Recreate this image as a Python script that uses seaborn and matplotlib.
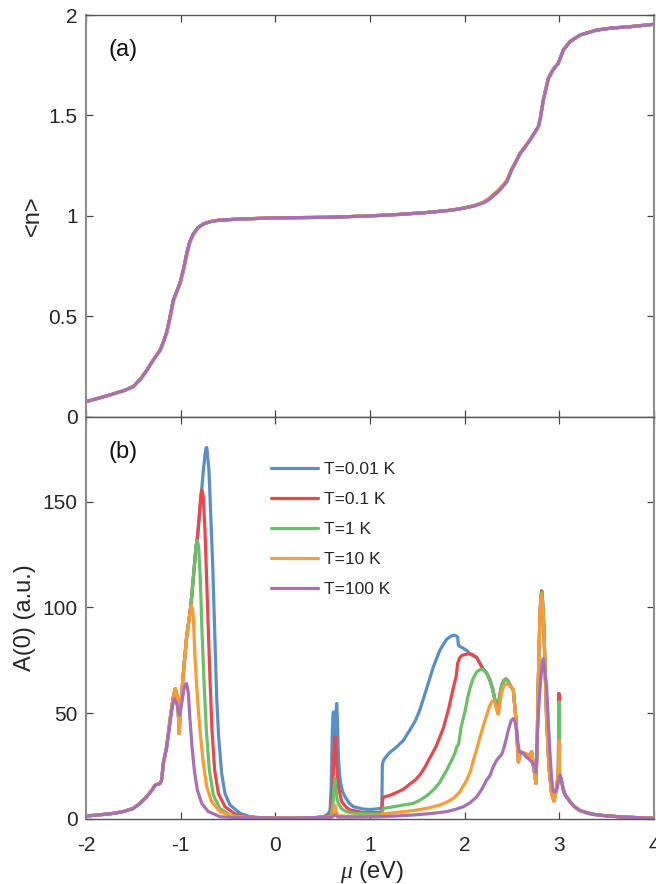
import matplotlib
matplotlib.use("Agg")
import matplotlib.pyplot as plt
import pandas as pd
import seaborn as sns

# ---------------- labels / colours ----------------
temps = ["T=0.01 K", "T=0.1 K", "T=1 K", "T=10 K", "T=100 K"]
colors = ["#5a8fc3", "#e8474c", "#6abf69", "#f99b36", "#a96fb5"]

# ---------------- panel (a): <n> vs mu ----------------
n_mu = [-2.0, -1.9, -1.75, -1.6, -1.5, -1.42, -1.359, -1.30, -1.218, -1.18, -1.148,
        -1.115, -1.078, -1.04, -1.007, -0.97, -0.937, -0.905, -0.867, -0.82, -0.76,
        -0.68, -0.6, -0.4, 0.0, 0.57, 1.0, 1.3, 1.634, 1.85, 1.986, 2.1, 2.197, 2.25,
        2.302, 2.35, 2.39, 2.443, 2.497, 2.549, 2.584, 2.64, 2.69, 2.74, 2.778, 2.80,
        2.831, 2.884, 2.937, 2.989, 3.042, 3.113, 3.218, 3.30, 3.394, 3.55, 3.746, 4.0]
n_low = [0.075, 0.088, 0.108, 0.13, 0.15, 0.19, 0.23, 0.275, 0.33, 0.375, 0.42,
         0.49, 0.58, 0.625, 0.665, 0.735, 0.81, 0.87, 0.91, 0.94, 0.96,
         0.972, 0.978, 0.984, 0.99, 0.993, 1.0, 1.007, 1.018, 1.028, 1.038, 1.05, 1.066, 1.08,
         1.1, 1.12, 1.14, 1.17, 1.23, 1.277, 1.31, 1.345, 1.378, 1.415, 1.444, 1.49,
         1.577, 1.685, 1.73, 1.76, 1.826, 1.868, 1.90, 1.912, 1.925, 1.935, 1.942, 1.954]
n_10K = [0.075, 0.088, 0.108, 0.13, 0.15, 0.19, 0.23, 0.275, 0.33, 0.372, 0.415,
         0.48, 0.57, 0.62, 0.66, 0.725, 0.80, 0.86, 0.905, 0.938, 0.959,
         0.972, 0.978, 0.984, 0.99, 0.993, 1.0, 1.007, 1.018, 1.028, 1.039, 1.052, 1.069, 1.085,
         1.107, 1.127, 1.147, 1.176, 1.235, 1.28, 1.312, 1.346, 1.378, 1.415, 1.444, 1.49,
         1.577, 1.685, 1.73, 1.76, 1.826, 1.868, 1.90, 1.912, 1.925, 1.935, 1.942, 1.954]
n_series = [n_low, n_low, n_low, n_10K, n_low]

# ---------------- panel (b): A(0) vs mu ----------------
# shared low-energy part (all temperatures)
left_mu = [-2.0, -1.85, -1.7, -1.6, -1.5, -1.43, -1.36, -1.30, -1.271, -1.236,
           -1.218, -1.201, -1.183, -1.148]
left_A = [1.4, 2.0, 2.7, 3.6, 5.0, 7.4, 10.5, 13.8, 16.0, 16.5, 16.8, 18.5, 26.3, 34.0]

# rising flank shared by T <= 10 K
rise_mu = [-1.113, -1.078, -1.057, -1.035, -1.021, -1.018, -1.011, -1.0, -0.972, -0.937, -0.901]
rise_A = [46.7, 57.7, 61.6, 57.7, 46.7, 40.4, 45.1, 53.0, 68.7, 86.0, 97.8]

# gap region
gap_mu = [-0.15, 0.0, 0.2, 0.4, 0.5]
gap_A = [0.6, 0.45, 0.4, 0.6, 0.9]

# high-energy tail shared by all temperatures
tail_mu = [3.007, 3.025, 3.042, 3.06, 3.112, 3.16, 3.218, 3.30, 3.36, 3.45, 3.535,
           3.65, 3.75, 3.87, 4.0]
tail_A = [20.8, 17.5, 13.7, 11.5, 8.2, 5.8, 4.0, 2.8, 2.2, 1.7, 1.4, 1.0, 0.8, 0.55, 0.3]

# region 2.54 - 3.0 shared by T <= 10 K (peak and spike heights differ)
r_mu = [2.542, 2.567, 2.578, 2.591, 2.62, 2.654, 2.689, 2.707, 2.725, 2.753, 2.765,
        2.778, 2.795, 2.805]
r_A = [46.7, 27.0, 29.0, 31.8, 31.2, 30.6, 29.4, 31.8, 25.5, 16.8, 35.0, 65.6, 97.0, 104.5]
r2_mu = [2.822, 2.835, 2.848, 2.866, 2.89, 2.918, 2.943, 2.971, 2.989]
r2_A = [103.0, 92.0, 73.4, 46.7, 24.7, 12.1, 8.6, 14.5, 22.3]

# T = 10 K
o_peak_mu = [-0.887, -0.876, -0.866, -0.849, -0.824, -0.796, -0.761, -0.725, -0.673, -0.585, -0.444]
o_peak_A = [100.9, 99.5, 95.4, 76.6, 57.7, 42.0, 26.3, 15.3, 8.2, 3.5, 1.1]
o_mid_mu = [0.525, 0.60, 0.615, 0.63, 0.645, 0.66, 0.75, 1.123, 1.135, 1.30, 1.458, 1.60,
            1.739, 1.82, 1.88, 1.91, 1.95, 2.021, 2.06, 2.092, 2.13, 2.162, 2.20, 2.232,
            2.26, 2.285, 2.305, 2.32, 2.338, 2.355, 2.37, 2.391, 2.41, 2.43, 2.451, 2.48, 2.514]
o_mid_A = [0.6, 1.2, 3.5, 6.6, 3.5, 1.6, 1.3, 1.3, 2.4, 3.2, 4.0, 5.0,
           6.6, 8.2, 9.7, 11.0, 12.9, 18.4, 22.5, 27.8, 33.5, 38.8, 44.5, 49.0,
           53.0, 55.3, 56.0, 55.0, 51.5, 49.5, 54.0, 60.0, 62.5, 63.6, 64.0, 63.0, 60.9]

# T = 1 K
g_peak_mu = [-0.884, -0.866, -0.849, -0.838, -0.827]
g_peak_A = [104.9, 114.3, 123.7, 128.5, 131.6]
g_fall_mu = [-0.818, -0.810, -0.792, -0.775, -0.754, -0.729, -0.697, -0.655, -0.585, -0.479, -0.338]
g_fall_A = [130.5, 128.5, 112.7, 89.2, 65.6, 42.0, 23.1, 11.3, 5.0, 1.9, 0.7]
g_mid_mu = [0.525, 0.59, 0.61, 0.62, 0.63, 0.64, 0.655, 0.666, 0.70, 0.754, 0.85, 1.123,
            1.141, 1.25, 1.35, 1.458, 1.528, 1.60, 1.669, 1.732, 1.81, 1.86, 1.898, 1.915,
            1.935, 1.945, 1.96, 2.004, 2.03, 2.057, 2.09, 2.127, 2.16]
g_mid_A = [0.8, 1.5, 8.0, 15.0, 19.2, 14.0, 9.0, 7.4, 4.8, 3.4, 2.6, 2.3,
           5.0, 5.8, 6.6, 7.4, 8.9, 11.0, 13.7, 17.0, 23.1, 27.5, 31.3, 34.0,
           35.2, 38.0, 43.0, 51.0, 57.0, 62.0, 66.5, 69.5, 70.6]
g_bump_mu = [2.197, 2.232, 2.268, 2.295, 2.32, 2.338, 2.345, 2.355, 2.37, 2.391, 2.415,
             2.437, 2.46, 2.49, 2.514]
g_bump_A = [70.6, 69.0, 65.5, 61.5, 56.1, 52.5, 51.5, 53.0, 58.0, 63.2, 65.5,
            66.2, 65.0, 62.5, 60.9]

# T = 0.1 K
r_env_mu = [-0.813, -0.796]
r_env_A = [137.9, 147.3]
red_peak_mu = [-0.785, -0.778, -0.770, -0.761, -0.743, -0.725, -0.708, -0.690, -0.669,
               -0.641, -0.602, -0.532, -0.426, -0.303]
red_peak_A = [153.5, 155.5, 154.5, 152.0, 136.3, 112.7, 89.2, 65.6, 42.0,
              23.1, 12.1, 5.8, 2.4, 0.9]
red_mid_mu = [0.525, 0.59, 0.606, 0.618, 0.63, 0.642, 0.655, 0.666, 0.701, 0.75, 0.789,
              0.93, 1.123, 1.134, 1.141, 1.21, 1.28, 1.35, 1.42, 1.48, 1.53, 1.58, 1.634,
              1.70, 1.775, 1.83, 1.88, 1.905, 1.912, 1.925, 1.945, 1.97, 2.039, 2.08,
              2.127, 2.162]
red_mid_A = [1.0, 2.5, 13.8, 30.0, 38.8, 30.0, 20.0, 15.3, 8.2, 5.5, 4.3,
             3.0, 3.0, 9.5, 10.3, 11.2, 12.5, 14.0, 16.5, 18.5, 21.0, 24.5, 29.0,
             34.5, 43.0, 52.0, 62.0, 66.5, 68.0, 73.4, 76.0, 77.3, 78.1, 77.8,
             76.3, 73.4]

# T = 0.01 K
b_peak_mu = [-0.778, -0.761, -0.740, -0.731, -0.725, -0.718, -0.701, -0.683, -0.662,
             -0.641, -0.620, -0.599, -0.567, -0.532, -0.479, -0.373, -0.268]
b_peak_A = [155.5, 164.6, 173.3, 175.4, 175.6, 173.0, 164.6, 144.2, 120.6,
            89.2, 57.7, 38.8, 21.5, 12.1, 6.6, 2.7, 1.1]
b_mid_mu = [0.525, 0.56, 0.578, 0.590, 0.600, 0.607, 0.613, 0.619, 0.626, 0.633, 0.641,
            0.648, 0.655, 0.666, 0.678, 0.690, 0.710, 0.736, 0.78, 0.824, 0.93, 1.0,
            1.106, 1.125, 1.130, 1.141, 1.158, 1.21, 1.28, 1.35, 1.42, 1.48, 1.53, 1.60,
            1.67, 1.74, 1.81, 1.87, 1.90, 1.926, 1.932, 1.940, 2.021, 2.06, 2.127, 2.162]
b_mid_A = [1.5, 2.5, 4.2, 15.0, 38.0, 48.0, 50.6, 45.0, 36.0, 40.0, 50.0,
           54.6, 48.0, 29.4, 21.0, 16.8, 13.0, 10.5, 7.5, 5.8, 4.7, 4.5,
           4.9, 5.7, 25.5, 27.5, 28.8, 31.5, 34.0, 37.0, 42.0, 46.5, 52.0, 62.0,
           72.0, 80.0, 85.0, 86.8, 86.8, 86.0, 82.5, 81.8, 79.7, 77.8, 76.3, 73.4]

# T = 100 K
p_main_mu = [-1.113, -1.088, -1.067, -1.042, -1.014, -0.989, -0.965, -0.950, -0.940,
             -0.930, -0.919, -0.901, -0.880, -0.856, -0.824, -0.778, -0.708, -0.585, -0.408]
p_main_A = [45.1, 53.0, 56.9, 54.6, 49.1, 54.6, 61.6, 63.5, 64.0,
            62.5, 59.3, 46.7, 34.1, 23.1, 13.7, 7.4, 3.5, 1.1, 0.6]
p_mid_mu = [0.525, 0.60, 0.63, 0.66, 0.8, 1.106, 1.30, 1.458, 1.65, 1.81, 1.90, 1.986,
            2.06, 2.127, 2.18, 2.232, 2.267, 2.30, 2.338, 2.36, 2.391, 2.42, 2.444,
            2.461, 2.49, 2.514, 2.528, 2.542, 2.56, 2.577, 2.60, 2.619, 2.645, 2.672,
            2.69, 2.707, 2.725, 2.742, 2.752, 2.762, 2.778, 2.802, 2.818, 2.830, 2.845,
            2.866, 2.885, 2.901, 2.918, 2.936, 2.955, 2.971, 2.99]
p_mid_A = [0.7, 0.9, 2.0, 1.0, 0.9, 1.1, 1.5, 1.9, 2.6, 3.5, 4.5, 5.8,
           7.8, 10.5, 14.0, 18.4, 20.5, 24.5, 27.8, 29.0, 30.5, 34.5, 38.8,
           42.0, 46.5, 47.5, 46.5, 43.5, 37.0, 31.8, 31.3, 31.0, 29.5, 28.6,
           27.8, 27.0, 25.8, 24.7, 22.0, 32.0, 49.8, 65.5, 73.0, 75.8, 71.0,
           62.4, 45.0, 31.0, 19.0, 12.9, 12.8, 13.7, 17.5]

# peak heights at mu ~ 2.81 and spike tops at mu = 3.0 for T = 0.01, 0.1, 1, 10 K
peak281 = [107.8, 107.8, 107.2, 106.2]
spike3 = [59.3, 59.3, 55.3, 37.2]
spike_mu = [2.996, 3.0]
spike_base = 21.0

o_mu = left_mu + rise_mu + o_peak_mu + gap_mu + o_mid_mu + r_mu + [2.813] + r2_mu
o_A = left_A + rise_A + o_peak_A + gap_A + o_mid_A + r_A + [peak281[3]] + r2_A
g_mu = left_mu + rise_mu + g_peak_mu + g_fall_mu + gap_mu + g_mid_mu + g_bump_mu + r_mu + [2.813] + r2_mu
g_A = left_A + rise_A + g_peak_A + g_fall_A + gap_A + g_mid_A + g_bump_A + r_A + [peak281[2]] + r2_A
rd_mu = left_mu + rise_mu + g_peak_mu + r_env_mu + red_peak_mu + gap_mu + red_mid_mu + g_bump_mu + r_mu + [2.813] + r2_mu
rd_A = left_A + rise_A + g_peak_A + r_env_A + red_peak_A + gap_A + red_mid_A + g_bump_A + r_A + [peak281[1]] + r2_A
b_mu = left_mu + rise_mu + g_peak_mu + r_env_mu + b_peak_mu + gap_mu + b_mid_mu + g_bump_mu + r_mu + [2.813] + r2_mu
b_A = left_A + rise_A + g_peak_A + r_env_A + b_peak_A + gap_A + b_mid_A + g_bump_A + r_A + [peak281[0]] + r2_A
p_mu = left_mu + p_main_mu + gap_mu + p_mid_mu + tail_mu
p_A = left_A + p_main_A + gap_A + p_mid_A + tail_A

low_mu = [b_mu, rd_mu, g_mu, o_mu]
low_A = [b_A, rd_A, g_A, o_A]
b_series_mu = [m + spike_mu + tail_mu for m in low_mu] + [p_mu]
b_series_A = [a + [s, spike_base] + tail_A for a, s in zip(low_A, spike3)] + [p_A]

# ---------------- tables ----------------
rows_a = []
for t, vals in zip(temps, n_series):
    for m, v in zip(n_mu, vals):
        rows_a.append((t, m, v))
df_a = pd.DataFrame(rows_a, columns=["T", "mu", "n"])

rows_b = []
for t, ms, vs in zip(temps, b_series_mu, b_series_A):
    for m, v in zip(ms, vs):
        rows_b.append((t, m, v))
df_b = pd.DataFrame(rows_b, columns=["T", "mu", "A"])

# ---------------- style ----------------
sns.set_theme(style="ticks")
plt.rcParams["font.family"] = ["Liberation Sans", "DejaVu Sans"]
plt.rcParams["axes.unicode_minus"] = False
plt.rcParams["mathtext.fontset"] = "custom"
plt.rcParams["mathtext.it"] = "Liberation Serif:italic"
plt.rcParams["mathtext.rm"] = "Liberation Sans"

fig = plt.figure(figsize=(6.56, 8.84), dpi=100)
ax1 = fig.add_axes([0.1311, 0.5286, 0.8659, 0.4544])
ax2 = fig.add_axes([0.1311, 0.07353, 0.8659, 0.4548])

sns.lineplot(data=df_a, x="mu", y="n", hue="T", hue_order=temps, palette=colors,
             estimator=None, sort=False, linewidth=2.3, ax=ax1, legend=False)
sns.lineplot(data=df_b, x="mu", y="A", hue="T", hue_order=temps, palette=colors,
             estimator=None, sort=False, linewidth=2.3, ax=ax2, legend=True)

tick_col = "#262626"
for ax in (ax1, ax2):
    ax.set_xlim(-2, 4)
    ax.set_xticks([-2, -1, 0, 1, 2, 3, 4])
    ax.tick_params(direction="in", top=True, right=True, length=5, width=0.9,
                   color="#444444", labelsize=15, labelcolor=tick_col)
    ax.tick_params(axis="x", pad=12)
    ax.tick_params(axis="y", pad=6)
    for s in ("top", "bottom"):
        ax.spines[s].set_color("#555555")
        ax.spines[s].set_linewidth(1.0)
    for s in ("left", "right"):
        ax.spines[s].set_color("#8c8c8c")
        ax.spines[s].set_linewidth(1.5)

ax1.set_ylim(0, 2)
ax1.set_yticks([0, 0.5, 1, 1.5, 2])
ax1.set_yticklabels(["0", "0.5", "1", "1.5", "2"])
ax1.tick_params(labelbottom=False)
ax1.set_xlabel("")
ax1.set_ylabel("<n>", fontsize=17, color=tick_col)
ax1.yaxis.set_label_coords(-0.075, 0.5)

ax2.set_ylim(0, 190)
ax2.set_yticks([0, 50, 100, 150])
ax2.set_xticklabels(["-2", "-1", "0", "1", "2", "3", "4"])
ax2.set_ylabel("A(0) (a.u.)", fontsize=17, color=tick_col)
ax2.yaxis.set_label_coords(-0.088, 0.5)
ax2.set_xlabel(r"$\mu$ (eV)", fontsize=17, color=tick_col)
ax2.xaxis.set_label_coords(0.503, -0.1)

ax1.text(0.04, 0.913, "(a)", transform=ax1.transAxes, fontsize=17, va="center", color="#111111")
ax2.text(0.04, 0.914, "(b)", transform=ax2.transAxes, fontsize=17, va="center", color="#111111")

handles, labels = ax2.get_legend_handles_labels()
ax2.legend(handles, labels, loc="upper left", bbox_to_anchor=(0.3257, 0.888),
           frameon=False, fontsize=12.5, handlelength=2.7, handletextpad=0.35,
           labelspacing=0.85, borderaxespad=0, borderpad=0)

fig.savefig("out.png", dpi=100)
